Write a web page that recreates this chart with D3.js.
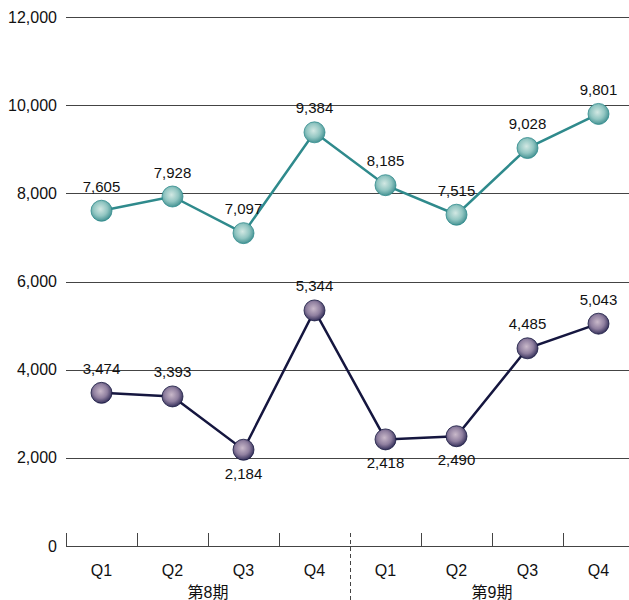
<!DOCTYPE html>
<html><head><meta charset="utf-8">
<script src="https://cdn.jsdelivr.net/npm/d3@7"></script>
<style>body{margin:0;background:#fff}svg{display:block}text{font-family:"Liberation Sans",Arial,sans-serif}</style>
</head><body>
<svg id="c" width="629" height="600"></svg>
<script>
const quarters = ["Q1","Q2","Q3","Q4","Q1","Q2","Q3","Q4"];
const periods = ["第8期","第9期"];
const seriesTeal = [7605, 7928, 7097, 9384, 8185, 7515, 9028, 9801];
const seriesNavy = [3474, 3393, 2184, 5344, 2418, 2490, 4485, 5043];
const yTicks = [0, 2000, 4000, 6000, 8000, 10000, 12000];

(function(){
const svg = d3.select("#c");
const mLeft = 66, mRight = 629, mTop = 17, mBottom = 546;
const keys = quarters.map((q,i)=>i);
const x = d3.scaleBand().domain(keys).range([mLeft, 634]);
const y = d3.scaleLinear().domain([0, 12000]).range([mBottom, mTop]);
const fmt = d3.format(",");

const defs = svg.append("defs");
function grad(id, c0, c1, c2){
  const g = defs.append("radialGradient").attr("id", id).attr("cx","45%").attr("cy","42%").attr("r","60%");
  g.append("stop").attr("offset","0%").attr("stop-color",c0);
  g.append("stop").attr("offset","55%").attr("stop-color",c1);
  g.append("stop").attr("offset","100%").attr("stop-color",c2);
}
grad("gTeal", "#d2e8e3", "#92c6c2", "#3f8f90");
grad("gNavy", "#c9b9ca", "#8f7f9f", "#2e2a55");

svg.append("g").selectAll("line").data(yTicks.filter(d=>d>0)).join("line")
  .attr("x1", mLeft).attr("x2", mRight).attr("y1", d=>Math.round(y(d))+0.5).attr("y2", d=>Math.round(y(d))+0.5)
  .attr("stroke", "#444").attr("stroke-width", 1);

svg.append("g").selectAll("text").data(yTicks).join("text")
  .attr("x", 57).attr("y", d=>y(d)).attr("dy","0.35em").attr("text-anchor","end")
  .attr("font-size", 16).attr("fill","#111").text(d=>fmt(d));

const xa = svg.append("g");
xa.append("line").attr("x1", mLeft).attr("x2", mRight).attr("y1", mBottom+0.5).attr("y2", mBottom+0.5).attr("stroke","#444").attr("stroke-width",1.2);
const tickXs = keys.map(k=>x(k)).filter((v,i)=>i!==4);
xa.selectAll("line.t").data(tickXs).join("line").attr("class","t")
  .attr("x1", d=>Math.round(d)+0.5).attr("x2", d=>Math.round(d)+0.5).attr("y1", mBottom-13).attr("y2", mBottom)
  .attr("stroke","#444");
xa.append("line").attr("x1", Math.round(x(4))+0.5).attr("x2", Math.round(x(4))+0.5)
  .attr("y1", mBottom-13).attr("y2", 600).attr("stroke","#444").attr("stroke-dasharray","4,3");
xa.selectAll("text.q").data(keys).join("text").attr("class","q")
  .attr("x", k=>x(k)+x.bandwidth()/2).attr("y", 570).attr("dy","0.35em").attr("text-anchor","middle")
  .attr("font-size", 16).attr("fill","#111").text(k=>quarters[k]);
xa.selectAll("text.p").data(periods).join("text").attr("class","p")
  .attr("x", (d,i)=>(x(i*4) + x(i*4+3)+x.bandwidth())/2).attr("y", 592).attr("dy","0.35em").attr("text-anchor","middle")
  .attr("font-size", 16).attr("fill","#111").style("font-family",'"Liberation Sans","Noto Sans CJK JP",sans-serif').text(d=>d);

function drawSeries(vals, color, gradId, labelBelow){
  const cx = k=>x(k)+x.bandwidth()/2;
  const line = d3.line().x((d,i)=>cx(i)).y(d=>y(d));
  svg.append("path").datum(vals).attr("d", line).attr("fill","none")
    .attr("stroke", color).attr("stroke-width", 2.5);
  svg.append("g").selectAll("circle").data(vals).join("circle")
    .attr("cx",(d,i)=>cx(i)).attr("cy", d=>y(d)).attr("r", 10.5)
    .attr("fill", `url(#${gradId})`).attr("stroke", color).attr("stroke-width", 0.8);
  svg.append("g").selectAll("text").data(vals).join("text")
    .attr("x",(d,i)=>cx(i)).attr("y", d=> labelBelow(d) ? y(d)+29 : y(d)-19)
    .attr("text-anchor","middle").attr("font-size", 15).attr("fill","#111").text(d=>fmt(d));
}
drawSeries(seriesTeal, "#2f8a8c", "gTeal", d=>false);
drawSeries(seriesNavy, "#15163f", "gNavy", d=>d < 3000);
})();
</script>
</body></html>
